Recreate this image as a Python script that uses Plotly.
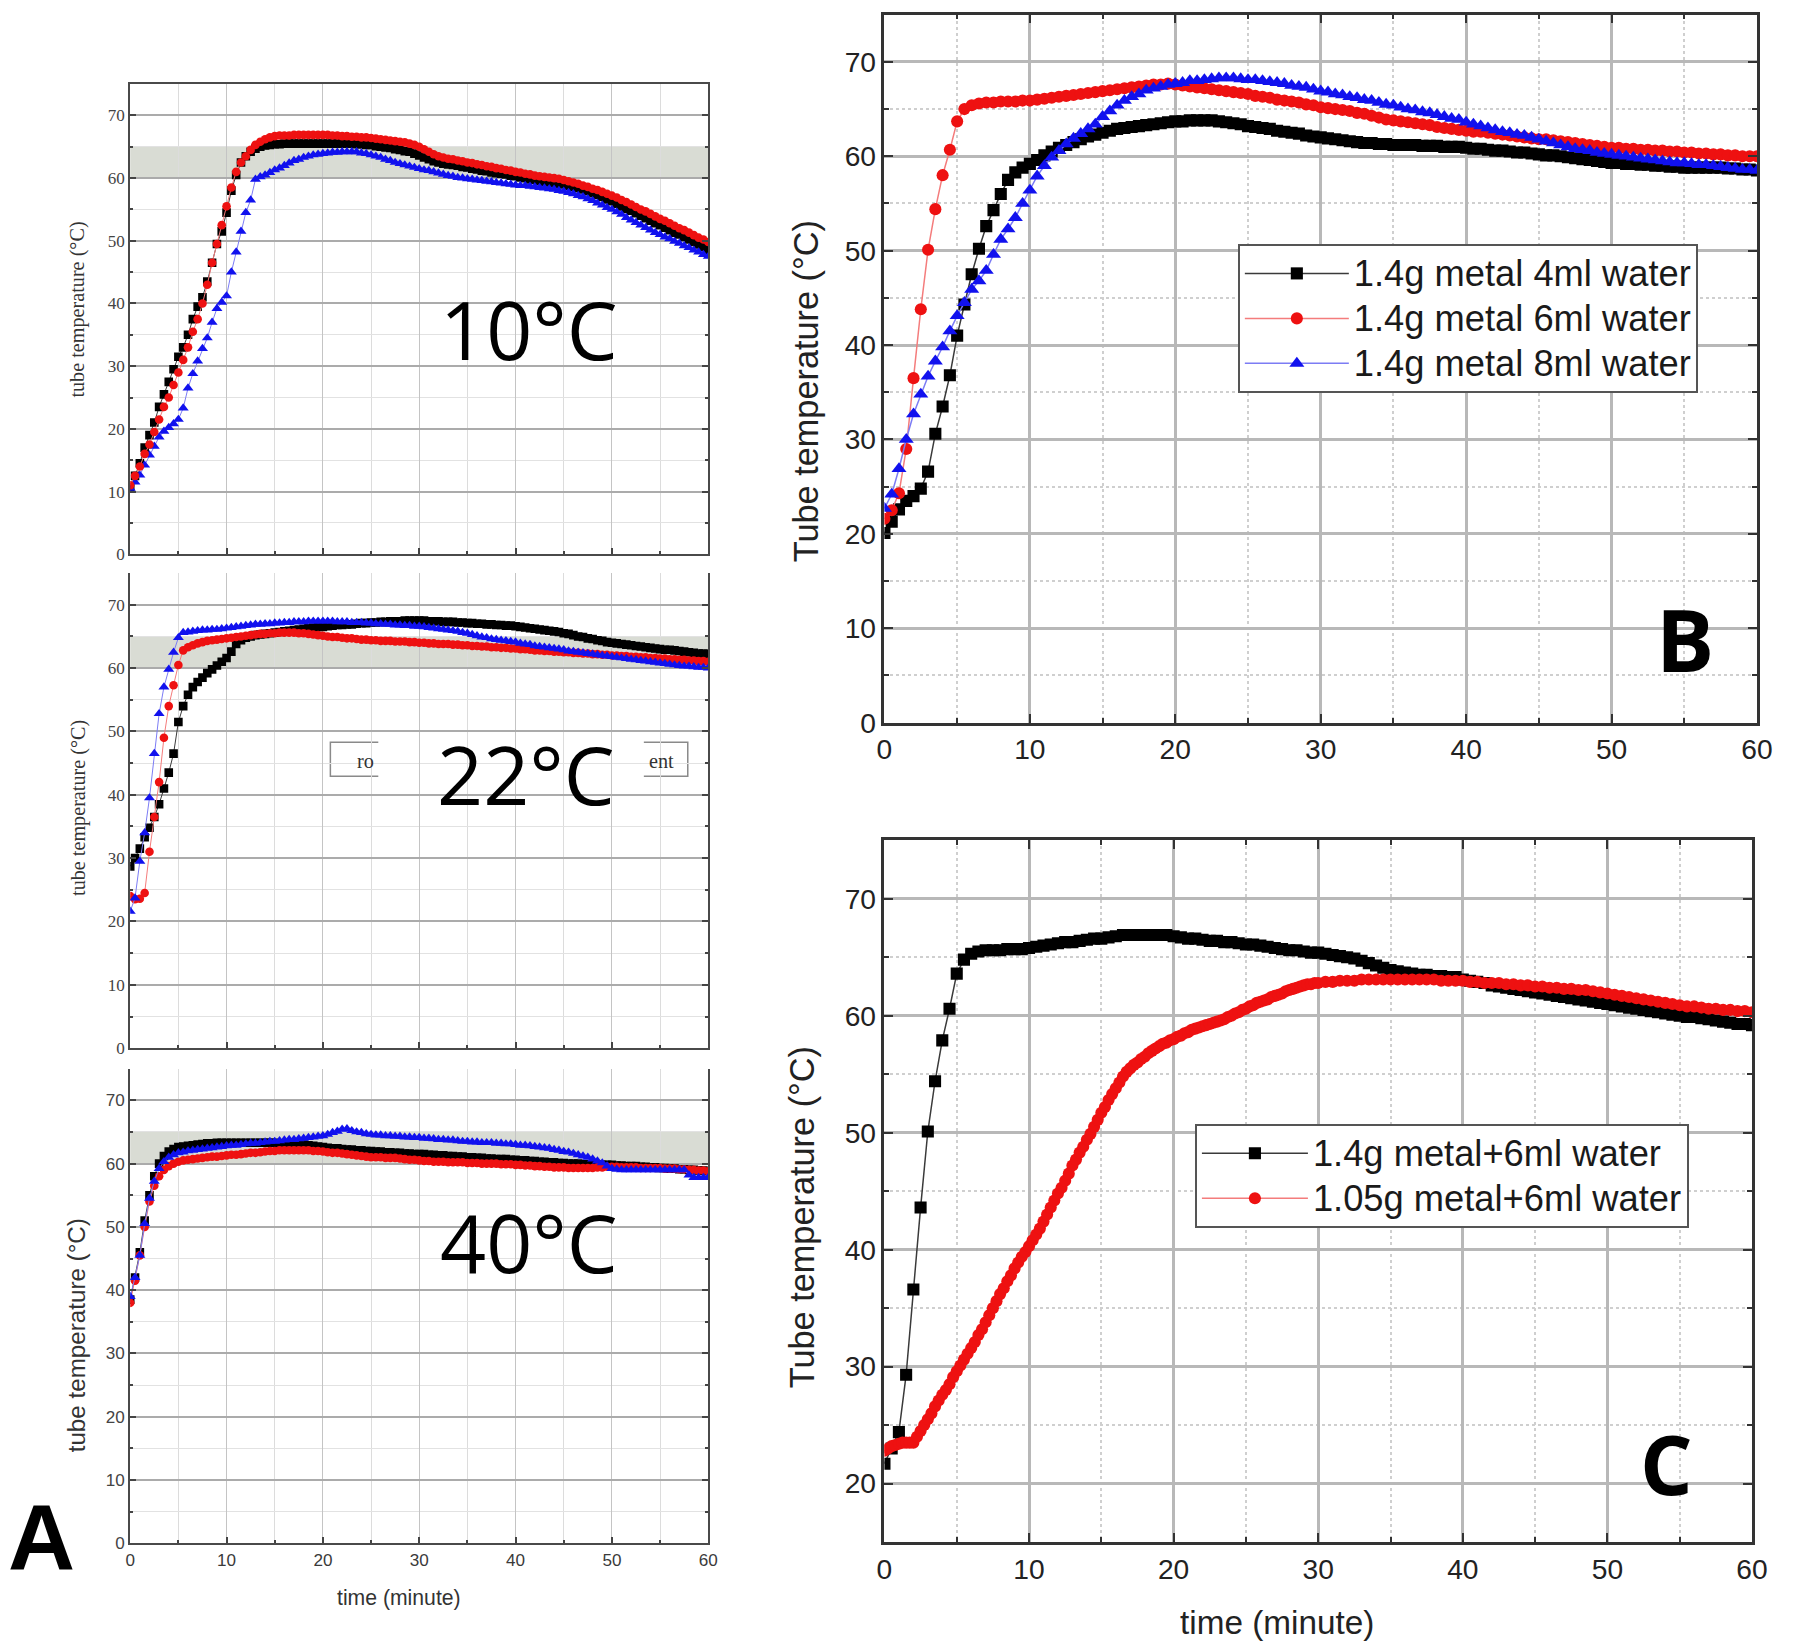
import plotly.graph_objects as go

# ---------------- data ----------------
TIME_MIN = [
    0.0, 0.5, 1.0, 1.5, 2.0, 2.5, 3.0, 3.5, 4.0, 4.5,
    5.0, 5.5, 6.0, 6.5, 7.0, 7.5, 8.0, 8.5, 9.0, 9.5,
    10.0, 10.5, 11.0, 11.5, 12.0, 12.5, 13.0, 13.5, 14.0, 14.5,
    15.0, 15.5, 16.0, 16.5, 17.0, 17.5, 18.0, 18.5, 19.0, 19.5,
    20.0, 20.5, 21.0, 21.5, 22.0, 22.5, 23.0, 23.5, 24.0, 24.5,
    25.0, 25.5, 26.0, 26.5, 27.0, 27.5, 28.0, 28.5, 29.0, 29.5,
    30.0, 30.5, 31.0, 31.5, 32.0, 32.5, 33.0, 33.5, 34.0, 34.5,
    35.0, 35.5, 36.0, 36.5, 37.0, 37.5, 38.0, 38.5, 39.0, 39.5,
    40.0, 40.5, 41.0, 41.5, 42.0, 42.5, 43.0, 43.5, 44.0, 44.5,
    45.0, 45.5, 46.0, 46.5, 47.0, 47.5, 48.0, 48.5, 49.0, 49.5,
    50.0, 50.5, 51.0, 51.5, 52.0, 52.5, 53.0, 53.5, 54.0, 54.5,
    55.0, 55.5, 56.0, 56.5, 57.0, 57.5, 58.0, 58.5, 59.0, 59.5,
    60.0,
]

# Panel A, 10 degC environment
A10_BLACK = [
    10.5, 12.5, 14.5, 17.0, 19.0, 21.0, 23.5, 25.5, 27.5, 29.5,
    31.5, 33.0, 35.0, 37.5, 39.5, 41.0, 43.5, 46.5, 49.5, 51.5,
    54.5, 58.0, 60.5, 62.5, 63.5, 64.2, 64.7, 65.0, 65.2, 65.3,
    65.4, 65.4, 65.5, 65.5, 65.5, 65.5, 65.5, 65.5, 65.5, 65.5,
    65.5, 65.5, 65.5, 65.5, 65.5, 65.5, 65.5, 65.4, 65.4, 65.3,
    65.3, 65.1, 65.0, 64.9, 64.8, 64.6, 64.5, 64.3, 64.2, 63.9,
    63.6, 63.3, 63.0, 62.7, 62.5, 62.3, 62.2, 62.1, 62.0, 61.8,
    61.7, 61.5, 61.4, 61.2, 61.1, 60.9, 60.8, 60.7, 60.6, 60.4,
    60.3, 60.1, 60.0, 59.8, 59.7, 59.5, 59.4, 59.3, 59.2, 59.1,
    59.0, 58.8, 58.6, 58.4, 58.2, 57.9, 57.6, 57.3, 57.0, 56.6,
    56.3, 55.9, 55.5, 55.1, 54.8, 54.4, 54.0, 53.6, 53.2, 52.8,
    52.5, 52.1, 51.7, 51.3, 51.0, 50.6, 50.2, 49.8, 49.4, 49.0,
    48.6,
]
A10_RED = [
    11.0, 12.5, 14.0, 16.0, 17.5, 19.5, 21.5, 23.5, 25.0, 27.0,
    29.0, 31.0, 33.0, 35.5, 37.5, 40.0, 43.0, 46.5, 49.5, 52.5,
    55.5, 58.5, 61.0, 62.5, 63.5, 64.5, 65.3, 65.8, 66.2, 66.5,
    66.7, 66.8, 66.8, 66.8, 66.9, 66.9, 66.9, 66.9, 66.9, 66.9,
    66.9, 66.9, 66.8, 66.8, 66.7, 66.7, 66.6, 66.6, 66.5, 66.5,
    66.4, 66.3, 66.2, 66.1, 66.0, 65.9, 65.8, 65.7, 65.5, 65.3,
    65.0, 64.6, 64.2, 63.8, 63.5, 63.3, 63.1, 63.0, 62.8, 62.7,
    62.5, 62.4, 62.2, 62.1, 61.9, 61.8, 61.6, 61.5, 61.3, 61.2,
    61.0, 60.9, 60.7, 60.6, 60.4, 60.3, 60.2, 60.1, 60.0, 59.9,
    59.7, 59.5, 59.3, 59.1, 58.8, 58.6, 58.3, 58.1, 57.8, 57.5,
    57.2, 56.9, 56.5, 56.2, 55.8, 55.4, 55.0, 54.7, 54.3, 53.9,
    53.5, 53.2, 52.8, 52.4, 52.0, 51.7, 51.3, 50.9, 50.5, 50.2,
    49.8,
]
A10_BLUE = [
    10.5, 11.5, 12.6, 14.2, 15.8, 17.2, 18.7, 19.6, 20.2, 20.8,
    21.5, 23.3, 26.5, 28.8, 30.8, 32.8, 34.5, 37.0, 39.2, 40.2,
    41.2, 45.0, 48.2, 51.5, 54.5, 56.5, 59.8, 60.2, 60.5, 60.9,
    61.3, 61.6, 62.0, 62.4, 62.8, 63.0, 63.3, 63.5, 63.7, 63.8,
    63.9, 64.0, 64.1, 64.1, 64.2, 64.2, 64.2, 64.2, 64.0, 63.9,
    63.7, 63.5, 63.3, 63.0, 62.8, 62.5, 62.3, 62.1, 61.9, 61.7,
    61.5, 61.3, 61.2, 61.0, 60.8, 60.6, 60.4, 60.3, 60.1, 60.0,
    59.9, 59.8, 59.7, 59.6, 59.5, 59.4, 59.3, 59.2, 59.1, 59.0,
    58.9, 58.8, 58.8, 58.7, 58.6, 58.5, 58.4, 58.3, 58.2, 58.0,
    57.9, 57.7, 57.5, 57.2, 57.0, 56.7, 56.4, 56.0, 55.7, 55.3,
    55.0, 54.6, 54.2, 53.7, 53.3, 52.9, 52.5, 52.1, 51.7, 51.3,
    51.0, 50.6, 50.3, 49.9, 49.6, 49.2, 48.9, 48.5, 48.2, 47.8,
    47.5,
]

# Panel A, 22 degC environment
A22_BLACK = [
    28.7, 30.0, 31.5, 33.3, 34.8, 36.5, 38.5, 41.0, 43.5, 46.5,
    51.5, 54.0, 55.8, 57.0, 57.8, 58.5, 59.2, 59.8, 60.4, 61.0,
    61.6, 62.6, 63.8, 64.4, 64.8, 65.0, 65.2, 65.3, 65.4, 65.5,
    65.6, 65.7, 65.8, 65.9, 66.0, 66.1, 66.2, 66.3, 66.4, 66.5,
    66.5, 66.6, 66.7, 66.8, 66.8, 66.9, 66.9, 67.0, 67.1, 67.1,
    67.2, 67.2, 67.3, 67.3, 67.4, 67.4, 67.4, 67.5, 67.5, 67.5,
    67.5, 67.5, 67.4, 67.4, 67.4, 67.3, 67.3, 67.3, 67.2, 67.2,
    67.1, 67.1, 67.0, 67.0, 66.9, 66.9, 66.8, 66.8, 66.7, 66.7,
    66.6, 66.5, 66.4, 66.3, 66.2, 66.1, 66.0, 65.9, 65.8, 65.7,
    65.5, 65.4, 65.2, 65.0, 64.9, 64.7, 64.6, 64.4, 64.3, 64.1,
    64.0, 63.9, 63.8, 63.7, 63.6, 63.5, 63.4, 63.3, 63.2, 63.1,
    63.0, 62.9, 62.9, 62.8, 62.7, 62.6, 62.5, 62.4, 62.3, 62.3,
    62.2,
]
A22_RED = [
    24.0, 23.5, 23.6, 24.5, 31.0, 36.5, 42.0, 49.0, 54.0, 57.3,
    60.5, 62.8, 63.3, 63.6, 63.9, 64.1, 64.3, 64.4, 64.5, 64.6,
    64.7, 64.8, 64.9, 65.0, 65.1, 65.2, 65.3, 65.4, 65.4, 65.5,
    65.5, 65.6, 65.6, 65.6, 65.6, 65.5, 65.5, 65.4, 65.3, 65.2,
    65.1, 65.0, 64.9, 64.9, 64.8, 64.7, 64.7, 64.6, 64.5, 64.5,
    64.4, 64.4, 64.3, 64.3, 64.3, 64.2, 64.2, 64.2, 64.1, 64.1,
    64.0, 64.0, 63.9, 63.9, 63.8, 63.8, 63.8, 63.7, 63.7, 63.6,
    63.6, 63.5, 63.5, 63.4, 63.4, 63.3, 63.3, 63.2, 63.2, 63.1,
    63.1, 63.0, 63.0, 62.9, 62.8, 62.8, 62.7, 62.7, 62.6, 62.6,
    62.5, 62.5, 62.4, 62.4, 62.3, 62.3, 62.2, 62.2, 62.1, 62.1,
    62.0, 62.0, 61.9, 61.9, 61.8, 61.8, 61.7, 61.7, 61.6, 61.6,
    61.5, 61.5, 61.4, 61.4, 61.3, 61.3, 61.2, 61.2, 61.1, 61.1,
    61.0,
]
A22_BLUE = [
    21.6, 23.7, 29.5, 34.0, 39.5, 46.5, 52.8, 57.0, 59.8, 62.5,
    64.8, 65.6, 65.7, 65.8, 65.9, 66.0, 66.0, 66.1, 66.1, 66.2,
    66.3, 66.4, 66.5, 66.6, 66.7, 66.8, 66.9, 66.9, 67.0, 67.0,
    67.1, 67.1, 67.2, 67.2, 67.3, 67.3, 67.3, 67.4, 67.4, 67.4,
    67.4, 67.4, 67.4, 67.3, 67.3, 67.3, 67.2, 67.2, 67.2, 67.1,
    67.1, 67.0, 67.0, 66.9, 66.9, 66.8, 66.8, 66.7, 66.7, 66.6,
    66.6, 66.5, 66.4, 66.3, 66.2, 66.1, 66.0, 65.9, 65.8, 65.6,
    65.5, 65.3, 65.1, 64.9, 64.8, 64.6, 64.5, 64.4, 64.3, 64.2,
    64.1, 63.9, 63.8, 63.7, 63.5, 63.4, 63.3, 63.2, 63.1, 63.0,
    62.9, 62.7, 62.6, 62.5, 62.4, 62.3, 62.2, 62.1, 62.0, 61.9,
    61.8, 61.7, 61.6, 61.5, 61.4, 61.3, 61.2, 61.1, 61.0, 60.9,
    60.8, 60.7, 60.6, 60.5, 60.4, 60.3, 60.3, 60.2, 60.1, 60.1,
    60.0,
]

# Panel A, 40 degC environment
A40_BLACK = [
    38.5, 42.0, 46.0, 51.0, 55.0, 58.0, 60.0, 61.2, 61.9, 62.3,
    62.6, 62.7, 62.8, 62.9, 63.0, 63.1, 63.2, 63.2, 63.3, 63.3,
    63.3, 63.3, 63.3, 63.3, 63.3, 63.3, 63.3, 63.3, 63.3, 63.3,
    63.3, 63.2, 63.2, 63.1, 63.1, 63.0, 63.0, 62.9, 62.8, 62.7,
    62.6, 62.5, 62.4, 62.4, 62.3, 62.2, 62.2, 62.1, 62.1, 62.0,
    62.0, 61.9, 61.9, 61.8, 61.8, 61.7, 61.7, 61.6, 61.6, 61.5,
    61.5, 61.5, 61.4, 61.4, 61.3, 61.3, 61.2, 61.2, 61.1, 61.1,
    61.0, 61.0, 60.9, 60.9, 60.8, 60.8, 60.7, 60.7, 60.7, 60.6,
    60.6, 60.5, 60.5, 60.4, 60.4, 60.3, 60.3, 60.2, 60.2, 60.1,
    60.1, 60.0, 60.0, 60.0, 59.9, 59.9, 59.9, 59.8, 59.8, 59.8,
    59.8, 59.7, 59.7, 59.6, 59.6, 59.6, 59.5, 59.5, 59.4, 59.4,
    59.3, 59.3, 59.2, 59.2, 59.1, 59.1, 59.0, 59.0, 58.9, 58.9,
    58.8,
]
A40_RED = [
    38.0, 41.5, 45.5, 50.0, 54.0, 56.5, 58.0, 59.0, 59.6, 60.0,
    60.3, 60.5, 60.6, 60.7, 60.8, 60.9, 61.0, 61.1, 61.1, 61.2,
    61.3, 61.4, 61.4, 61.5, 61.6, 61.7, 61.7, 61.8, 61.9, 62.0,
    62.0, 62.1, 62.1, 62.1, 62.1, 62.1, 62.1, 62.1, 62.0, 62.0,
    61.9, 61.8, 61.7, 61.7, 61.6, 61.5, 61.4, 61.3, 61.2, 61.1,
    61.0, 61.0, 61.0, 60.9, 60.9, 60.9, 60.8, 60.7, 60.6, 60.6,
    60.5, 60.4, 60.4, 60.3, 60.3, 60.3, 60.2, 60.2, 60.2, 60.2,
    60.1, 60.1, 60.1, 60.0, 60.0, 60.0, 60.0, 59.9, 59.9, 59.9,
    59.8, 59.8, 59.7, 59.7, 59.6, 59.6, 59.5, 59.5, 59.4, 59.4,
    59.4, 59.3, 59.3, 59.3, 59.3, 59.3, 59.3, 59.4, 59.4, 59.5,
    59.5, 59.5, 59.4, 59.4, 59.4, 59.4, 59.3, 59.3, 59.3, 59.3,
    59.3, 59.2, 59.2, 59.2, 59.1, 59.1, 59.0, 59.0, 58.9, 58.9,
    58.8,
]
A40_BLUE = [
    39.0, 42.0, 45.5, 50.5, 54.5, 57.2, 59.2, 60.3, 61.0, 61.4,
    61.7, 61.8, 62.0, 62.1, 62.2, 62.3, 62.4, 62.5, 62.6, 62.7,
    62.8, 62.9, 62.9, 63.0, 63.1, 63.2, 63.2, 63.3, 63.4, 63.5,
    63.5, 63.6, 63.7, 63.8, 63.8, 63.9, 64.0, 64.1, 64.2, 64.3,
    64.4, 64.6, 64.9, 65.1, 65.4, 65.5, 65.2, 65.0, 64.9, 64.7,
    64.6, 64.5, 64.5, 64.4, 64.4, 64.3, 64.3, 64.2, 64.2, 64.1,
    64.1, 64.0, 64.0, 63.9, 63.8, 63.8, 63.7, 63.7, 63.6, 63.5,
    63.5, 63.4, 63.4, 63.3, 63.3, 63.3, 63.2, 63.2, 63.1, 63.1,
    63.0, 62.9, 62.9, 62.8, 62.7, 62.6, 62.5, 62.4, 62.2, 62.1,
    61.9, 61.8, 61.6, 61.4, 61.2, 61.0, 60.7, 60.4, 60.1, 59.6,
    59.2, 59.1, 59.0, 59.0, 59.0, 59.0, 59.0, 59.0, 59.0, 59.0,
    59.0, 59.0, 59.0, 59.0, 59.0, 59.0, 58.2, 57.8, 57.8, 57.8,
    57.8,
]

# Panel B
B_LABELS = ["1.4g metal 4ml water", "1.4g metal 6ml water", "1.4g metal 8ml water"]
B_4ML = [
    20.1, 21.3, 22.6, 23.5, 24.0, 24.8, 26.6, 30.6, 33.5, 36.8,
    41.0, 44.3, 47.5, 50.2, 52.6, 54.3, 56.0, 57.5, 58.3, 58.8,
    59.2, 59.6, 60.1, 60.5, 60.9, 61.2, 61.5, 61.8, 62.1, 62.3,
    62.5, 62.7, 62.9, 63.0, 63.1, 63.2, 63.3, 63.4, 63.5, 63.6,
    63.7, 63.7, 63.8, 63.8, 63.8, 63.8, 63.7, 63.6, 63.5, 63.4,
    63.2, 63.1, 63.0, 62.9, 62.7, 62.6, 62.5, 62.4, 62.2, 62.1,
    62.0, 61.9, 61.8, 61.7, 61.6, 61.5, 61.4, 61.4, 61.3, 61.3,
    61.2, 61.2, 61.2, 61.2, 61.1, 61.1, 61.1, 61.0, 61.0, 61.0,
    60.9, 60.8, 60.8, 60.7, 60.6, 60.6, 60.5, 60.4, 60.4, 60.3,
    60.2, 60.1, 60.1, 60.0, 59.9, 59.8, 59.7, 59.6, 59.5, 59.4,
    59.3, 59.3, 59.2, 59.2, 59.1, 59.1, 59.0, 59.0, 58.9, 58.9,
    58.8, 58.8, 58.8, 58.8, 58.8, 58.8, 58.7, 58.7, 58.6, 58.6,
    58.5,
]
B_6ML = [
    21.6, 22.5, 24.3, 29.0, 36.5, 43.8, 50.1, 54.4, 58.0, 60.7,
    63.7, 65.0, 65.4, 65.6, 65.7, 65.7, 65.8, 65.8, 65.8, 65.9,
    65.9, 66.0, 66.1, 66.2, 66.3, 66.4, 66.5, 66.6, 66.7, 66.8,
    66.9, 67.0, 67.1, 67.2, 67.3, 67.4, 67.5, 67.6, 67.6, 67.7,
    67.6, 67.5, 67.4, 67.3, 67.2, 67.1, 67.0, 66.9, 66.8, 66.7,
    66.6, 66.4, 66.3, 66.2, 66.0, 65.9, 65.8, 65.7, 65.5, 65.4,
    65.2, 65.1, 65.0, 64.9, 64.8, 64.6, 64.5, 64.3, 64.1, 63.9,
    63.8, 63.7, 63.6, 63.5, 63.4, 63.3, 63.1, 63.0, 62.9, 62.8,
    62.7, 62.6, 62.6, 62.5, 62.4, 62.3, 62.2, 62.1, 62.0, 61.9,
    61.8, 61.8, 61.7, 61.6, 61.5, 61.4, 61.3, 61.2, 61.1, 61.0,
    60.9, 60.9, 60.8, 60.8, 60.7, 60.7, 60.6, 60.6, 60.5, 60.5,
    60.4, 60.4, 60.3, 60.3, 60.2, 60.2, 60.1, 60.1, 60.0, 60.0,
    60.0,
]
B_8ML = [
    22.7, 24.2, 26.9, 30.0, 32.7, 34.8, 36.7, 38.3, 39.8, 41.5,
    43.1, 44.5, 45.9, 46.8, 47.9, 49.6, 51.2, 52.3, 53.5, 55.0,
    56.4, 57.9, 59.0, 59.9, 60.6, 61.3, 61.9, 62.4, 62.9, 63.4,
    64.2, 64.8, 65.4, 65.9, 66.3, 66.6, 67.0, 67.2, 67.4, 67.6,
    67.7, 67.8, 68.0, 68.0, 68.1, 68.2, 68.3, 68.3, 68.3, 68.2,
    68.1, 68.1, 68.0, 67.9, 67.8, 67.7, 67.5, 67.4, 67.3, 67.1,
    66.9, 66.8, 66.6, 66.5, 66.3, 66.2, 66.0, 65.9, 65.7, 65.5,
    65.4, 65.2, 65.0, 64.9, 64.7, 64.6, 64.4, 64.2, 64.0, 63.9,
    63.6, 63.4, 63.2, 63.0, 62.8, 62.6, 62.5, 62.3, 62.2, 62.0,
    61.8, 61.6, 61.4, 61.2, 61.0, 60.8, 60.7, 60.6, 60.4, 60.3,
    60.2, 60.1, 60.0, 59.9, 59.8, 59.7, 59.6, 59.5, 59.4, 59.3,
    59.3, 59.2, 59.1, 59.1, 59.0, 58.9, 58.8, 58.7, 58.6, 58.6,
    58.5,
]

# Panel C
C_LABELS = ["1.4g metal+6ml water", "1.05g metal+6ml water"]
C_140G = [
    21.7, 23.0, 24.4, 29.3, 36.6, 43.6, 50.1, 54.4, 57.9, 60.6,
    63.6, 64.8, 65.3, 65.5, 65.6, 65.6, 65.6, 65.7, 65.7, 65.7,
    65.8, 65.9, 66.0, 66.1, 66.2, 66.3, 66.3, 66.4, 66.5, 66.6,
    66.6, 66.7, 66.8, 66.9, 66.9, 66.9, 66.9, 66.9, 66.9, 66.9,
    66.8, 66.7, 66.6, 66.6, 66.5, 66.4, 66.4, 66.3, 66.3, 66.2,
    66.1, 66.1, 66.0, 65.9, 65.8, 65.7, 65.6, 65.6, 65.5, 65.4,
    65.4, 65.3, 65.2, 65.1, 65.0, 64.9, 64.7, 64.5, 64.3, 64.1,
    63.9, 63.8, 63.7, 63.6, 63.5, 63.5, 63.4, 63.4, 63.3, 63.3,
    63.1, 63.0, 62.9, 62.8, 62.6, 62.5, 62.4, 62.3, 62.2, 62.1,
    62.0, 61.9, 61.8, 61.7, 61.6, 61.5, 61.4, 61.3, 61.2, 61.1,
    61.0, 60.9, 60.8, 60.7, 60.6, 60.5, 60.4, 60.3, 60.2, 60.1,
    60.0, 59.9, 59.9, 59.8, 59.7, 59.6, 59.5, 59.4, 59.3, 59.3,
    59.2,
]
# the 1.05 g run was logged more often during its slow rise
C_105G_TIME = [
    0.0, 0.25, 0.5, 0.75, 1.0, 1.25, 1.5, 1.75, 2.0, 2.25,
    2.5, 2.75, 3.0, 3.25, 3.5, 3.75, 4.0, 4.25, 4.5, 4.75,
    5.0, 5.25, 5.5, 5.75, 6.0, 6.25, 6.5, 6.75, 7.0, 7.25,
    7.5, 7.75, 8.0, 8.25, 8.5, 8.75, 9.0, 9.25, 9.5, 9.75,
    10.0, 10.25, 10.5, 10.75, 11.0, 11.25, 11.5, 11.75, 12.0, 12.25,
    12.5, 12.75, 13.0, 13.25, 13.5, 13.75, 14.0, 14.25, 14.5, 14.75,
    15.0, 15.25, 15.5, 15.75, 16.0, 16.25, 16.5, 16.75, 17.0, 17.25,
    17.5, 17.75, 18.0, 18.25, 18.5, 18.75, 19.0, 19.25, 19.5, 19.75,
    20.0, 20.25, 20.5, 20.75, 21.0, 21.25, 21.5, 21.75, 22.0, 22.25,
    22.5, 22.75, 23.0, 23.25, 23.5, 23.75, 24.0, 24.25, 24.5, 24.75,
    25.0, 25.25, 25.5, 25.75, 26.0, 26.25, 26.5, 26.75, 27.0, 27.25,
    27.5, 27.75, 28.0, 28.25, 28.5, 28.75, 29.0, 29.25, 29.5, 29.75,
    30.0, 30.5, 31.0, 31.5, 32.0, 32.5, 33.0, 33.5, 34.0, 34.5,
    35.0, 35.5, 36.0, 36.5, 37.0, 37.5, 38.0, 38.5, 39.0, 39.5,
    40.0, 40.5, 41.0, 41.5, 42.0, 42.5, 43.0, 43.5, 44.0, 44.5,
    45.0, 45.5, 46.0, 46.5, 47.0, 47.5, 48.0, 48.5, 49.0, 49.5,
    50.0, 50.5, 51.0, 51.5, 52.0, 52.5, 53.0, 53.5, 54.0, 54.5,
    55.0, 55.5, 56.0, 56.5, 57.0, 57.5, 58.0, 58.5, 59.0, 59.5,
    60.0,
]
C_105G = [
    22.8, 23.0, 23.2, 23.3, 23.4, 23.5, 23.5, 23.5, 23.5, 24.0,
    24.5, 25.0, 25.5, 26.0, 26.6, 27.1, 27.6, 28.0, 28.5, 29.1,
    29.6, 30.1, 30.6, 31.1, 31.6, 32.1, 32.7, 33.2, 33.8, 34.4,
    35.0, 35.6, 36.2, 36.7, 37.3, 37.8, 38.4, 38.9, 39.4, 39.8,
    40.3, 40.8, 41.3, 41.8, 42.4, 43.0, 43.6, 44.2, 44.8, 45.3,
    45.9, 46.5, 47.2, 47.7, 48.3, 48.8, 49.4, 49.9, 50.5, 51.1,
    51.7, 52.2, 52.8, 53.3, 53.8, 54.3, 54.8, 55.2, 55.5, 55.8,
    56.0, 56.3, 56.5, 56.8, 57.0, 57.2, 57.4, 57.6, 57.7, 57.9,
    58.0, 58.2, 58.3, 58.5, 58.6, 58.8, 58.9, 59.0, 59.1, 59.2,
    59.3, 59.4, 59.5, 59.6, 59.7, 59.9, 60.0, 60.2, 60.3, 60.5,
    60.6, 60.8, 60.9, 61.1, 61.2, 61.3, 61.4, 61.6, 61.7, 61.8,
    61.9, 62.1, 62.2, 62.3, 62.4, 62.5, 62.6, 62.7, 62.7, 62.8,
    62.8, 62.9, 62.9, 63.0, 63.0, 63.0, 63.1, 63.1, 63.1, 63.1,
    63.1, 63.1, 63.1, 63.1, 63.1, 63.1, 63.1, 63.0, 63.0, 63.0,
    63.0, 62.9, 62.9, 62.8, 62.8, 62.8, 62.7, 62.7, 62.6, 62.6,
    62.5, 62.5, 62.4, 62.4, 62.3, 62.3, 62.2, 62.2, 62.1, 62.0,
    61.9, 61.8, 61.7, 61.6, 61.5, 61.4, 61.3, 61.2, 61.1, 61.0,
    60.9, 60.8, 60.8, 60.7, 60.6, 60.6, 60.5, 60.5, 60.4, 60.4,
    60.3,
]

A_TEMPS = ["10°C", "22°C", "40°C"]
A_BAND = [60, 65]
PANEL_LETTERS = ["A", "B", "C"]

# ---------------- geometry ----------------
# Target positions below are in photographed-page pixels (1800x1647).  The
# photographed page shows the figure slightly scaled and offset, so page
# positions are mapped back into figure pixels here.
SX, OX = 0.9884, 14.1
SY, OY = 0.9916, 5.8
W, H = 1810, 1656


def fx(p):
    return ((p - OX) / SX) / W


def fy(p):
    return 1 - ((p - OY) / SY) / H


def fs(n):
    return round(n / SY, 1)


BLACK_M, RED_M, BLUE_M = "#000000", "#ee1111", "#1111ee"
BLACK_L, RED_L, BLUE_L = "#3a3a3a", "#f47c7c", "#7c7cf4"

fig = go.Figure()


def add_series(xa, ya, yvals, mcol, lcol, symbol, size, lw, name="", legend=None, xvals=None):
    fig.add_trace(go.Scatter(
        x=TIME_MIN if xvals is None else xvals, y=yvals, xaxis=xa, yaxis=ya,
        mode="lines+markers", name=name, showlegend=legend is not None,
        legend=legend if legend else "legend",
        line=dict(color=lcol, width=lw),
        marker=dict(color=mcol, symbol=symbol, size=fs(size), line=dict(width=0)),
        hoverinfo="skip",
    ))


def leg_name(s):
    return f'<span style="font-size:{fs(36)}px">{s}</span>'


MS_A = 8.5
add_series("x", "y", A10_BLACK, BLACK_M, BLACK_L, "square", MS_A, 1)
add_series("x", "y", A10_BLUE, BLUE_M, BLUE_L, "triangle-up", MS_A + 1, 1)
add_series("x", "y", A10_RED, RED_M, RED_L, "circle", MS_A, 1)
add_series("x2", "y2", A22_BLACK, BLACK_M, BLACK_L, "square", MS_A, 1)
add_series("x2", "y2", A22_RED, RED_M, RED_L, "circle", MS_A, 1)
add_series("x2", "y2", A22_BLUE, BLUE_M, BLUE_L, "triangle-up", MS_A + 1, 1)
add_series("x3", "y3", A40_BLACK, BLACK_M, BLACK_L, "square", MS_A, 1)
add_series("x3", "y3", A40_RED, RED_M, RED_L, "circle", MS_A, 1)
add_series("x3", "y3", A40_BLUE, BLUE_M, BLUE_L, "triangle-up", MS_A + 1, 1)

add_series("x4", "y4", B_4ML, BLACK_M, BLACK_L, "square", 12, 1.5, leg_name(B_LABELS[0]), "legend")
add_series("x4", "y4", B_6ML, RED_M, RED_L, "circle", 12, 1.5, leg_name(B_LABELS[1]), "legend")
add_series("x4", "y4", B_8ML, BLUE_M, BLUE_L, "triangle-up", 13, 1.5, leg_name(B_LABELS[2]), "legend")

add_series("x5", "y5", C_140G, BLACK_M, BLACK_L, "square", 12, 1.5, leg_name(C_LABELS[0]), "legend2")
add_series("x5", "y5", C_105G, RED_M, RED_L, "circle", 12, 1.5, leg_name(C_LABELS[1]), "legend2",
           xvals=C_105G_TIME)

# ---------------- axes ----------------
AX0, AX1 = 128.5, 707.5
A_ROWS = [(82.0, 552.7), (571.6, 1047.3), (1067.8, 1543.1)]
SANS = "Liberation Sans, Arial, sans-serif"
SERIF = "Liberation Serif, Times New Roman, serif"
OPEN = "Open Sans, Noto Sans, sans-serif"


def a_xaxis(anchor, labels, mirror):
    return dict(
        domain=[fx(AX0), fx(AX1)], anchor=anchor, range=[0, 60],
        tick0=0, dtick=10, showgrid=True, gridcolor="#c4c4c4", gridwidth=1,
        minor=dict(dtick=5, showgrid=True, gridcolor="#dcdcdc", gridwidth=1,
                   ticks="inside", ticklen=3, tickcolor="#444"),
        showline=True, linecolor="#4a4a4a", linewidth=2, mirror=mirror,
        ticks="inside", ticklen=6, tickcolor="#444", tickwidth=1.5,
        showticklabels=labels, zeroline=False,
        tickfont=dict(family=SANS, size=fs(17), color="#3a3a3a"),
    )


def a_yaxis(anchor, top, bottom, serif):
    return dict(
        domain=[fy(bottom), fy(top)], anchor=anchor, range=[0, 75],
        tick0=0, dtick=10, showgrid=True, gridcolor="#ababab", gridwidth=1.5,
        minor=dict(dtick=5, showgrid=True, gridcolor="#e2e2e2", gridwidth=1,
                   ticks="inside", ticklen=3, tickcolor="#444"),
        showline=True, linecolor="#4a4a4a", linewidth=2, mirror="ticks",
        ticks="inside", ticklen=6, tickcolor="#444", tickwidth=1.5, zeroline=False,
        tickfont=dict(family=SERIF if serif else SANS, size=fs(17), color="#444"),
    )


def bc_common():
    return dict(
        dtick=10, showgrid=True, gridcolor="#b8b8b8", gridwidth=2.5,
        minor=dict(dtick=5, showgrid=True, gridcolor="#cfcfcf", gridwidth=1.5, griddash="dot",
                   ticks="inside", ticklen=5, tickcolor="#333"),
        showline=True, linecolor="#333", linewidth=2.5, mirror="ticks",
        ticks="inside", ticklen=9, tickcolor="#333", tickwidth=2, zeroline=False,
        tickfont=dict(family=SANS, size=fs(28), color="#222"),
    )


def bc_xaxis(anchor, x0, x1):
    d = bc_common()
    d.update(domain=[fx(x0), fx(x1)], anchor=anchor, range=[0, 60], tick0=0)
    return d


def bc_yaxis(anchor, top, bottom, rng, t0):
    d = bc_common()
    d.update(domain=[fy(bottom), fy(top)], anchor=anchor, range=rng, tick0=t0)
    return d


LEG_FONT = dict(family=SANS, size=fs(32), color="#1a1a1a")
fig.update_layout(
    width=W, height=H, margin=dict(l=0, r=0, t=0, b=0),
    paper_bgcolor="white", plot_bgcolor="white",
    xaxis=a_xaxis("y", False, True),
    yaxis=a_yaxis("x", *A_ROWS[0], True),
    xaxis2=a_xaxis("y2", False, False),
    yaxis2=a_yaxis("x2", *A_ROWS[1], True),
    xaxis3=a_xaxis("y3", True, False),
    yaxis3=a_yaxis("x3", *A_ROWS[2], False),
    xaxis4=bc_xaxis("y4", 884.0, 1758.0),
    yaxis4=bc_yaxis("x4", 12.5, 721.4, [0, 75], 0),
    xaxis5=bc_xaxis("y5", 884.0, 1753.0),
    yaxis5=bc_yaxis("x5", 839.2, 1541.8, [15, 75], 20),
    legend=dict(x=fx(1238), y=fy(242), xanchor="left", yanchor="top",
                bgcolor="white", bordercolor="#555", borderwidth=2,
                font=LEG_FONT, itemwidth=104, tracegroupgap=0),
    legend2=dict(x=fx(1195), y=fy(1123), xanchor="left", yanchor="top",
                 bgcolor="white", bordercolor="#555", borderwidth=2,
                 font=LEG_FONT, itemwidth=106, tracegroupgap=0),
)

# ---------------- shapes (below the traces, above the grid) ----------------
def dom_box(x0, x1, y0, y1, row):
    top, bottom = A_ROWS[row]
    return dict(x0=(x0 - AX0) / (AX1 - AX0), x1=(x1 - AX0) / (AX1 - AX0),
                y0=(bottom - y1) / (bottom - top), y1=(bottom - y0) / (bottom - top))


AXN = ["", "2", "3"]
shapes = []
for r in range(3):
    shapes.append(dict(type="rect", xref=f"x{AXN[r]} domain", yref=f"y{AXN[r]}",
                       x0=0, x1=1, y0=A_BAND[0], y1=A_BAND[1], fillcolor="#d9dcd4",
                       line=dict(width=0), layer="below"))
shapes.append(dict(type="rect", xref="x2 domain", yref="y2 domain",
                   line=dict(color="#8a8a8a", width=1.5), fillcolor="rgba(0,0,0,0)",
                   layer="below", **dom_box(329, 687, 741, 775, 1)))
WHITE_BOXES = [(415, 689, 258, 392, 0), (377, 643, 705, 835, 1), (415, 689, 1164, 1305, 2)]
for x0, x1, y0, y1, r in WHITE_BOXES:
    shapes.append(dict(type="rect", xref=f"x{AXN[r]} domain", yref=f"y{AXN[r]} domain",
                       fillcolor="white", line=dict(width=0), layer="below",
                       **dom_box(x0, x1, y0, y1, r)))
fig.update_layout(shapes=shapes)

# ---------------- annotations ----------------
ann = []


def text(x, y, s, size, family, color="black", angle=0, bold=False):
    if bold:
        s = f"<b>{s}</b>"
    ann.append(dict(x=fx(x), y=fy(y), xref="paper", yref="paper", text=s,
                    showarrow=False, textangle=angle, xanchor="center", yanchor="middle",
                    font=dict(size=fs(size), family=family, color=color)))


text(528, 327, A_TEMPS[0], 80, OPEN)
text(525, 773, A_TEMPS[1], 80, OPEN)
text(528, 1241, A_TEMPS[2], 80, OPEN)
text(364, 760, "ro", 20, SERIF, "#333")
text(661, 760, "ent", 20, SERIF, "#333")
text(76, 308, "tube temperature (°C)", 20, SERIF, "#333", -90)
text(76, 807, "tube temperature (°C)", 20, SERIF, "#333", -90)
text(75, 1335, "tube temperature (°C)", 24, SANS, "#333", -90)
text(398, 1598, "time (minute)", 21, SANS, "#333")
text(805, 390, "Tube temperature (°C)", 34, SANS, "#222", -90)
text(801, 1217, "Tube temperature (°C)", 34, SANS, "#222", -90)
text(1277, 1622, "time (minute)", 33, SANS, "#222")
text(40, 1537, PANEL_LETTERS[0], 92, SANS, "black", bold=True)
text(1686, 637, PANEL_LETTERS[1], 86, OPEN, "black", bold=True)
text(1667, 1463, PANEL_LETTERS[2], 82, OPEN, "black", bold=True)
fig.update_layout(annotations=ann)

fig.write_html("out.html")
